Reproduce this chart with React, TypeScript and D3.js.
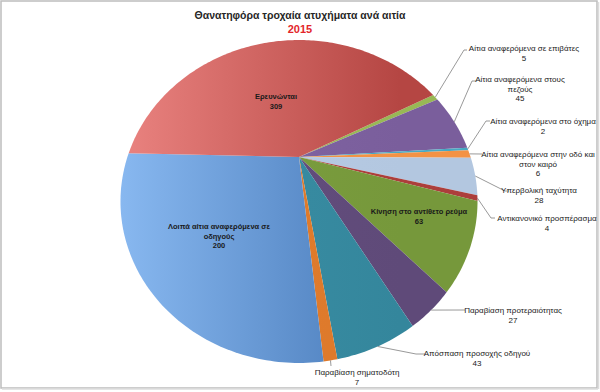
import React from "react";
import * as d3 from "d3";

const categories = [
  "Αίτια αναφερόμενα σε επιβάτες",
  "Αίτια αναφερόμενα στους πεζούς",
  "Αίτια αναφερόμενα στο όχημα",
  "Αίτια αναφερόμενα στην οδό και στον καιρό",
  "Υπερβολική ταχύτητα",
  "Αντικανονικό προσπέρασμα",
  "Κίνηση στο αντίθετο ρεύμα",
  "Παραβίαση προτεραιότητας",
  "Απόσπαση προσοχής οδηγού",
  "Παραβίαση σηματοδότη",
  "Λοιπά αίτια αναφερόμενα  σε οδηγούς",
  "Ερευνώνται",
];
const values = [5, 45, 2, 6, 28, 4, 63, 27, 43, 7, 200, 309];

const title = "Θανατηφόρα τροχαία ατυχήματα ανά αιτία";
const subtitle = "2015";

// label text split into lines (display)
const labelLines = [
  ["Αίτια αναφερόμενα σε επιβάτες"],
  ["Αίτια αναφερόμενα στους", "πεζούς"],
  ["Αίτια αναφερόμενα στο όχημα"],
  ["Αίτια αναφερόμενα στην οδό και", "στον καιρό"],
  ["Υπερβολική ταχύτητα"],
  ["Αντικανονικό προσπέρασμα"],
  ["Κίνηση στο αντίθετο ρεύμα"],
  ["Παραβίαση προτεραιότητας"],
  ["Απόσπαση προσοχής οδηγού"],
  ["Παραβίαση σηματοδότη"],
  ["Λοιπά αίτια αναφερόμενα  σε", "οδηγούς"],
  ["Ερευνώνται"],
];

// colours: [light, dark]
const sliceColors = [
  ["#9DBD5B", "#98B855"],
  ["#8468A6", "#7A5E9C"],
  ["#4BACC6", "#47A8C2"],
  ["#F79646", "#F39244"],
  ["#BACEE6", "#B3C7E0"],
  ["#B2423F", "#AC3E3B"],
  ["#7EA140", "#76983B"],
  ["#66507F", "#5F4A79"],
  ["#3D92A8", "#34869C"],
  ["#E4802F", "#DC782A"],
  ["#88B8F0", "#4678B7"],
  ["#EA8380", "#B54643"],
];

// layout (text centre x, first line y, leader elbow) — not data
const labelLayout: any[] = [
  { x: 524, y: 48, inside: false, elbow: [464, 50], end: [467, 50] },
  { x: 520, y: 79, inside: false, elbow: [472, 81], end: [476, 81] },
  { x: 543, y: 121, inside: false, elbow: [486, 121], end: [490, 121] },
  { x: 538, y: 154, inside: false, elbow: null, end: [482, 154] },
  { x: 539, y: 190, inside: false, elbow: [505, 191], end: [509, 191] },
  { x: 547, y: 218, inside: false, elbow: [491, 218], end: [495, 218] },
  { x: 419, y: 211, inside: true },
  { x: 513, y: 310, inside: false, elbow: null, end: [465, 310] },
  { x: 477, y: 353, inside: false, elbow: [416, 354], end: [425, 354] },
  { x: 357, y: 372, inside: false, elbow: null, end: [331, 366] },
  { x: 219, y: 226, inside: true },
  { x: 276, y: 96, inside: true },
];

// perspective projection parameters for the tilted pie
const CX = 299;
const CY = 157;
const K = 0.2756;
const AX = 171.6;
const BY = 149.2;

function project(angle: number, r = 1): [number, number] {
  const u = r * Math.sin(angle);
  const v = -r * Math.cos(angle);
  const w = 1 - K * v;
  return [CX + (AX * u) / w, CY + (BY * v) / w];
}

export default function App() {
  const pie = d3
    .pie<number>()
    .sort(null)
    .value((d) => d)
    .startAngle((62 * Math.PI) / 180)
    .endAngle((62 * Math.PI) / 180 + 2 * Math.PI);
  const arcs = pie(values);
  const line = d3.line();

  const slicePath = (a: any) => {
    const pts: [number, number][] = [[CX, CY]];
    const n = Math.max(2, Math.ceil(((a.endAngle - a.startAngle) * 180) / Math.PI));
    for (let i = 0; i <= n; i++) {
      const t = a.startAngle + ((a.endAngle - a.startAngle) * i) / n;
      pts.push(project(t));
    }
    return line(pts) + "Z";
  };

  const fontFam = "'Liberation Sans', Arial, sans-serif";

  return (
    <div style={{ position: "fixed", left: 0, top: 0 }}>
      <svg width={600} height={392} style={{ display: "block", background: "#fff" }}>
        <defs>
          {arcs.map((a, i) => (
            <linearGradient
              key={i}
              id={`g${i}`}
              gradientUnits="userSpaceOnUse"
              x1={120}
              y1={0}
              x2={400}
              y2={0}
            >
              <stop offset="0" stopColor={sliceColors[i][0]} />
              <stop offset="1" stopColor={sliceColors[i][1]} />
            </linearGradient>
          ))}
        </defs>
        <rect x={1} y={1} width={596} height={387} fill="#fff" stroke="#bdbdbd" strokeWidth={1.5} />
        <line x1={2} y1={389} x2={598} y2={389} stroke="#dcdcdc" strokeWidth={1.5} />
        <line x1={598.5} y1={2} x2={598.5} y2={389} stroke="#dcdcdc" strokeWidth={1.5} />

        <text x={300} y={19} textAnchor="middle" fontFamily={fontFam} fontWeight="bold" fontSize={10.5} fill="#262626">
          {title}
        </text>
        <text x={300} y={33} textAnchor="middle" fontFamily={fontFam} fontWeight="bold" fontSize={11} fill="#E3262B">
          {subtitle}
        </text>

        {arcs.map((a, i) => (
          <path key={i} d={slicePath(a)} fill={`url(#g${i})`} stroke="none" />
        ))}

        {arcs.map((a, i) => {
          const L = labelLayout[i];
          if (L.inside) return null;
          const mid = (a.startAngle + a.endAngle) / 2;
          const p0 = project(mid);
          const pts: [number, number][] = [p0];
          if (L.elbow) pts.push(L.elbow);
          pts.push(L.end);
          return <path key={i} d={line(pts) as string} fill="none" stroke="#7f7f7f" strokeWidth={0.8} />;
        })}

        {arcs.map((a, i) => {
          const L = labelLayout[i];
          const lines = [...labelLines[i], String(values[i])];
          return (
            <text
              key={i}
              textAnchor="middle"
              fontFamily={fontFam}
              fontSize={L.inside ? 7.5 : 8}
              fontWeight={L.inside ? "bold" : "normal"}
              fill="#1a1a1a"
            >
              {lines.map((s, j) => (
                <tspan key={j} x={L.x} y={L.y + 3 + j * 9.7}>
                  {s}
                </tspan>
              ))}
            </text>
          );
        })}
      </svg>
    </div>
  );
}
